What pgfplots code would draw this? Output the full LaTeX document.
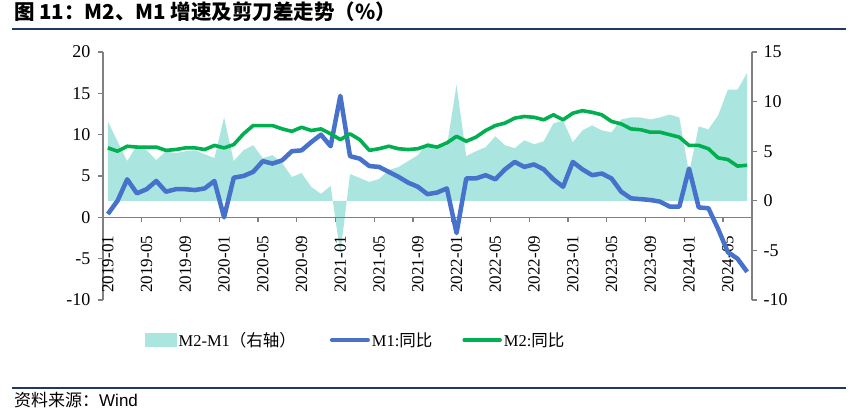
\documentclass[border=0pt]{standalone}
\usepackage{pgfplots}
\usepackage{pgfplotstable}
\pgfplotsset{compat=1.18}
\usepackage{fontspec}
\setmainfont{Liberation Serif}
\newfontfamily\cjk{Noto Sans CJK SC}
\newfontfamily\arial{Liberation Sans}
\definecolor{areac}{RGB}{170,230,223}
\definecolor{m1c}{RGB}{70,114,204}
\definecolor{m2c}{RGB}{0,176,80}
\definecolor{axc}{RGB}{128,128,128}
\definecolor{navy}{RGB}{31,56,100}

\pgfplotstableread{
i m1 m2 d
0 0.4 8.4 8.0
1 2.0 8.0 6.0
2 4.6 8.6 4.0
3 2.9 8.5 5.6
4 3.4 8.5 5.1
5 4.4 8.5 4.1
6 3.1 8.1 5.0
7 3.4 8.2 4.8
8 3.4 8.4 5.0
9 3.3 8.4 5.1
10 3.5 8.2 4.7
11 4.4 8.7 4.3
12 0.0 8.4 8.4
13 4.8 8.8 4.0
14 5.0 10.1 5.1
15 5.5 11.1 5.6
16 6.8 11.1 4.3
17 6.5 11.1 4.6
18 6.9 10.7 3.8
19 8.0 10.4 2.4
20 8.1 10.9 2.8
21 9.1 10.5 1.4
22 10.0 10.7 0.7
23 8.6 10.1 1.5
24 14.7 9.4 -5.3
25 7.4 10.1 2.7
26 7.1 9.4 2.3
27 6.2 8.1 1.9
28 6.1 8.3 2.2
29 5.5 8.6 3.1
30 4.9 8.3 3.4
31 4.2 8.2 4.0
32 3.7 8.3 4.6
33 2.8 8.7 5.9
34 3.0 8.5 5.5
35 3.5 9.0 5.5
36 -1.9 9.8 11.7
37 4.7 9.2 4.5
38 4.7 9.7 5.0
39 5.1 10.5 5.4
40 4.6 11.1 6.5
41 5.8 11.4 5.6
42 6.7 12.0 5.3
43 6.1 12.2 6.1
44 6.4 12.1 5.7
45 5.8 11.8 6.0
46 4.6 12.4 7.8
47 3.7 11.8 8.1
48 6.7 12.6 5.9
49 5.8 12.9 7.1
50 5.1 12.7 7.6
51 5.3 12.4 7.1
52 4.7 11.6 6.9
53 3.1 11.3 8.2
54 2.3 10.7 8.4
55 2.2 10.6 8.4
56 2.1 10.3 8.2
57 1.9 10.3 8.4
58 1.3 10.0 8.7
59 1.3 9.7 8.4
60 5.9 8.7 2.8
61 1.2 8.7 7.5
62 1.1 8.3 7.2
63 -1.4 7.2 8.6
64 -4.2 7.0 11.2
65 -5.0 6.2 11.2
66 -6.6 6.3 12.9
}\data

\begin{document}
\begin{tikzpicture}
\useasboundingbox (-103pt,-118pt) rectangle (753pt,300pt);

% right axis: M2-M1 area
\begin{axis}[
  at={(0,0)}, anchor=south west, scale only axis,
  width=649pt, height=248pt,
  xmin=-0.5, xmax=66.5, ymin=-10, ymax=15,
  axis x line=none, axis y line*=right,
  y axis line style={axc, line width=1.3pt},
  ytick={-10,-5,0,5,10,15},
  yticklabels={-10,-5,0,5,10,15},
  ytick style={axc, line width=1.3pt},
  tick align=outside, major tick length=5pt,
  yticklabel style={font=\fontsize{18}{18}\selectfont, text=black},
  yticklabel shift=3pt,
]
\addplot[fill=areac, draw=none] table[x=i, y=d]{\data} \closedcycle;
\end{axis}

% left axis: M1, M2
\begin{axis}[
  at={(0,0)}, anchor=south west, scale only axis,
  width=649pt, height=248pt,
  xmin=-0.5, xmax=66.5, ymin=-10, ymax=20,
  axis y line*=left, axis x line*=middle,
  axis line style={axc, line width=1.3pt},
  ytick={-10,-5,0,5,10,15,20},
  yticklabels={-10,-5,0,5,10,15,20},
  tick style={axc, line width=1.3pt},
  tick align=outside, major tick length=5pt,
  yticklabel style={font=\fontsize{18}{18}\selectfont, text=black},
  yticklabel shift=4pt,
  xtick={3.5,7.5,...,63.5}, xticklabels={},
  extra x ticks={0,4,...,64},
  extra x tick labels={2019-01,2019-05,2019-09,2020-01,2020-05,2020-09,2021-01,2021-05,2021-09,2022-01,2022-05,2022-09,2023-01,2023-05,2023-09,2024-01,2024-05},
  extra x tick style={major tick length=0pt, xticklabel shift=15pt},
  xticklabel style={rotate=90, anchor=east, font=\fontsize{17}{17}\selectfont, text=black},
  legend style={at={(0.0647,-0.161)}, anchor=west, draw=none, fill=none,
    inner sep=0pt, legend columns=3,
    font=\fontsize{16.5}{16.5}\selectfont,
    /tikz/column 2/.style={column sep=32pt},
    /tikz/column 4/.style={column sep=28pt}},
  legend cell align=left,
]
\addlegendimage{legend image code/.code={\fill[areac] (0pt,-6.5pt) rectangle (31pt,6.5pt);}}
\addlegendentry{M2-M1{\cjk（右轴）}}
\addplot[m1c, line width=4.5pt, line join=round,
  legend image code/.code={\draw[m1c, line width=4pt, line cap=round] (0pt,0pt)--(36pt,0pt);}]
  table[x=i, y=m1]{\data};
\addlegendentry{M1:{\cjk 同比}}
\addplot[m2c, line width=3.6pt, line join=round,
  legend image code/.code={\draw[m2c, line width=3.5pt, line cap=round] (0pt,0pt)--(36pt,0pt);}]
  table[x=i, y=m2]{\data};
\addlegendentry{M2:{\cjk 同比}}
\end{axis}

\node[anchor=base west, inner sep=0pt, font=\cjk\bfseries\fontsize{20.5}{20.5}\selectfont] at (-89pt,280pt) {图 11：M2、M1 增速及剪刀差走势（\%）};
\draw[navy, line width=1.5pt] (-91pt,271pt) -- (743pt,271pt);
\draw[navy, line width=1.5pt] (-91pt,-88pt) -- (743pt,-88pt);
\node[anchor=base west, inner sep=0pt, font=\fontsize{17}{17}\selectfont] at (-89pt,-106pt) {{\cjk 资料来源：}{\arial Wind}};
\end{tikzpicture}
\end{document}
